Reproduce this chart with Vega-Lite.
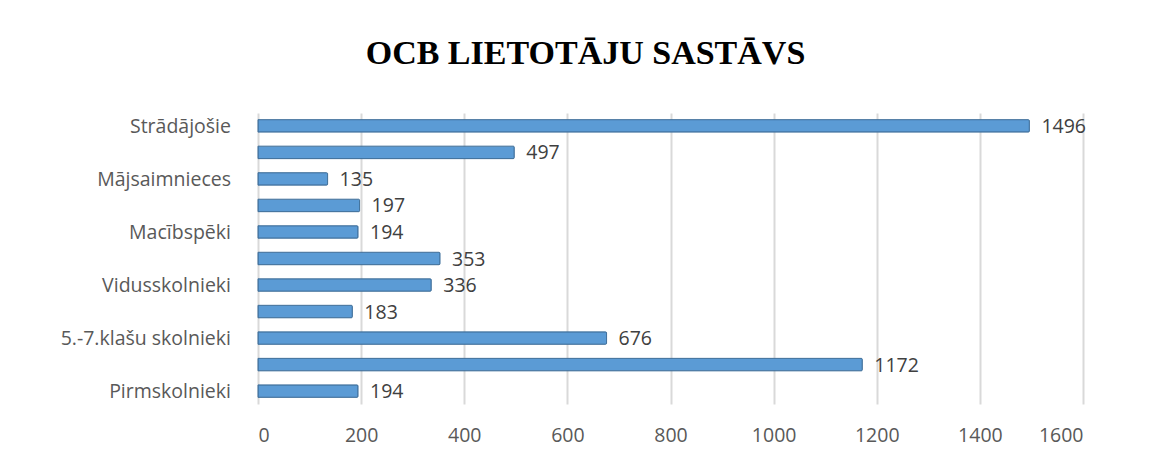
{
  "$schema": "https://vega.github.io/schema/vega-lite/v6.json",
  "autosize": "none",
  "width": 825,
  "height": 291,
  "padding": {"left": 258, "top": 113, "right": 68, "bottom": 61},
  "background": "white",
  "config": {"view": {"stroke": null}},
  "title": {
    "text": "OCB LIETOTĀJU SASTĀVS",
    "font": "Liberation Serif",
    "fontSize": 34,
    "fontWeight": "bold",
    "color": "#000000",
    "anchor": "middle",
    "dx": -85,
    "offset": 42
  },
  "data": {
    "values": [
      {"nr": 1, "kategorija": "Strādājošie", "skaits": 1496},
      {"nr": 2, "kategorija": "", "skaits": 497},
      {"nr": 3, "kategorija": "Mājsaimnieces", "skaits": 135},
      {"nr": 4, "kategorija": "", "skaits": 197},
      {"nr": 5, "kategorija": "Macībspēki", "skaits": 194},
      {"nr": 6, "kategorija": "", "skaits": 353},
      {"nr": 7, "kategorija": "Vidusskolnieki", "skaits": 336},
      {"nr": 8, "kategorija": "", "skaits": 183},
      {"nr": 9, "kategorija": "5.-7.klašu skolnieki", "skaits": 676},
      {"nr": 10, "kategorija": "", "skaits": 1172},
      {"nr": 11, "kategorija": "Pirmskolnieki", "skaits": 194}
    ]
  },
  "encoding": {
    "y": {
      "field": "nr",
      "type": "ordinal",
      "scale": {"paddingInner": 0.53, "paddingOuter": 0.25},
      "axis": null
    }
  },
  "layer": [
    {
      "mark": {"type": "bar", "color": "#5B9BD5", "stroke": "#41719C", "strokeWidth": 1, "cornerRadiusEnd": 1},
      "encoding": {
        "x": {
          "field": "skaits",
          "type": "quantitative",
          "scale": {"domain": [0, 1600], "nice": false},
          "axis": {
            "title": null,
            "values": [0, 200, 400, 600, 800, 1000, 1200, 1400, 1600],
            "format": "d",
            "grid": true,
            "gridColor": "#D9D9D9",
            "gridWidth": 2,
            "domain": false,
            "ticks": false,
            "labelFont": "Open Sans",
            "labelFontSize": 19.5,
            "labelColor": "#595959",
            "labelPadding": 22
          }
        }
      }
    },
    {
      "mark": {"type": "text", "align": "left", "baseline": "middle", "dx": 12, "dy": 1, "font": "Open Sans", "fontSize": 19.5, "color": "#404040"},
      "encoding": {
        "x": {"field": "skaits", "type": "quantitative"},
        "text": {"field": "skaits", "type": "quantitative", "format": "d"}
      }
    },
    {
      "mark": {"type": "text", "align": "right", "baseline": "middle", "dx": -27, "dy": 1, "font": "Open Sans", "fontSize": 19.5, "color": "#595959"},
      "encoding": {
        "x": {"datum": 0},
        "text": {"field": "kategorija"}
      }
    }
  ]
}
